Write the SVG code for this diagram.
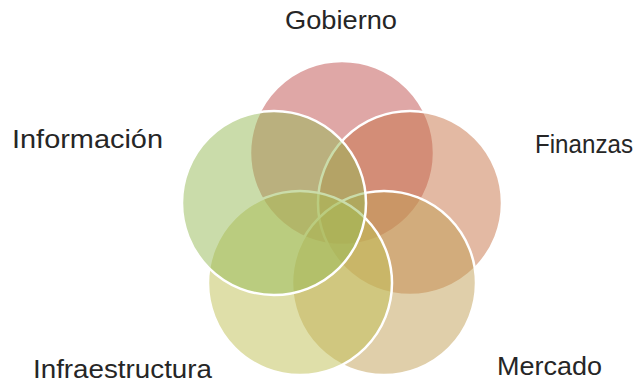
<svg xmlns="http://www.w3.org/2000/svg" width="641" height="385" viewBox="0 0 641 385">
<style>
.c{stroke:#ffffff;stroke-width:2.5;fill-opacity:0.5}
.t{font-family:"Liberation Sans",Arial,sans-serif;font-size:26px;fill:#262626}
</style>
<rect width="641" height="385" fill="#ffffff"/>
<g id="gobierno"><circle class="c" cx="342" cy="153" r="92" fill="#c0504d"/></g>
<g id="finanzas"><circle class="c" cx="410" cy="203" r="92" fill="#c77347"/></g>
<g id="mercado"><circle class="c" cx="384" cy="283" r="92" fill="#c19f55"/></g>
<g id="infraestructura"><circle class="c" cx="300" cy="283" r="92" fill="#bfbf53"/></g>
<g id="informacion"><circle class="c" cx="274" cy="203" r="92" fill="#95b955"/></g>
<g id="labels">
<text class="t" x="285" y="29" textLength="112" lengthAdjust="spacingAndGlyphs">Gobierno</text>
<text class="t" x="12" y="148" textLength="151" lengthAdjust="spacingAndGlyphs">Información</text>
<text class="t" x="535" y="153" textLength="98" lengthAdjust="spacingAndGlyphs">Finanzas</text>
<text class="t" x="33" y="378" textLength="179" lengthAdjust="spacingAndGlyphs">Infraestructura</text>
<text class="t" x="497" y="375" textLength="105" lengthAdjust="spacingAndGlyphs">Mercado</text>
</g>
</svg>
